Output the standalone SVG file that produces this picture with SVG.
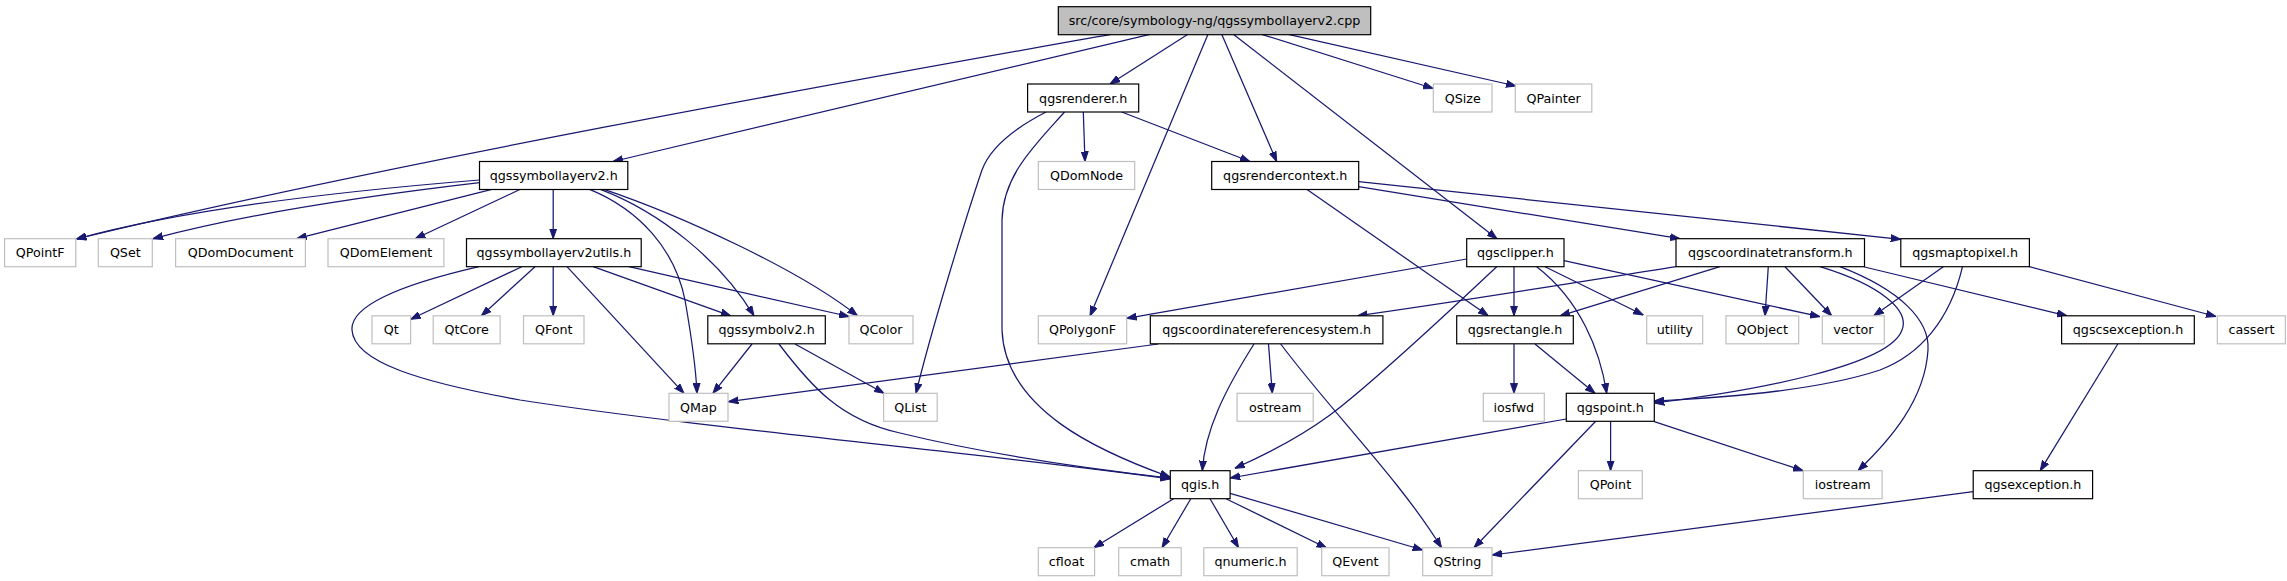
<svg xmlns="http://www.w3.org/2000/svg" width="2287" height="581" viewBox="0 0 2287 581">
<style>
.n rect{fill:#fff;stroke:#000;stroke-width:1.2}
.x rect{fill:#fff;stroke:#bfbfbf;stroke-width:1.2}
.r rect{fill:#bfbfbf;stroke:#000;stroke-width:1.2}
text{font-family:"DejaVu Sans","Liberation Sans",sans-serif;font-size:12.7px;fill:#000;text-anchor:middle}
#edges path{fill:none;stroke:#191970;stroke-width:1.25;marker-end:url(#a)}
</style>
<defs>
<marker id="a" markerWidth="10" markerHeight="8" refX="10" refY="4" orient="auto" markerUnits="userSpaceOnUse"><path d="M0,0.5 L10,4 L0,7.5 z" fill="#191970" stroke="#191970" stroke-width="1"/></marker>
</defs>
<rect width="2287" height="581" fill="#fff"/>
<g id="edges">
<path d="M1111,34.3 C900,72 400,160 76.5,239"/>
<path d="M1150,34.3 L613,161.5"/>
<path d="M1188,34.3 L1110,84"/>
<path d="M1208,34.3 L1090,316"/>
<path d="M1221.7,34.3 L1276.7,161.5"/>
<path d="M1233.3,34.3 L1497,238.7"/>
<path d="M1261.7,34.3 L1433.3,88.5"/>
<path d="M1288.3,34.3 L1516,86"/>
<path d="M1083.3,112 L1085,161.5"/>
<path d="M1121.7,112 L1250,161.5"/>
<path d="M1046,112 C1015,128 990,148 982,170 C965,220 930,335 916,393.3"/>
<path d="M1064.5,112 C1035,145 1003,175 1002,220 L1002,330 C1005,410 1100,452 1170,477"/>
<path d="M479.5,180 C380,188 200,205 76.5,239"/>
<path d="M479.5,182.7 C400,192 260,210 153,238.7"/>
<path d="M491.8,189.3 L296.6,238.7"/>
<path d="M520.4,189.3 L415.2,238.7"/>
<path d="M553.2,189.3 L553.2,238.7"/>
<path d="M589.6,189.3 C640,210 675,250 685,300 C692,340 696,370 697,393.3"/>
<path d="M600.4,189.3 C660,212 720,260 754,315.8"/>
<path d="M604,189.3 C680,215 800,270 857.5,315.8"/>
<path d="M479,266.7 C430,278 350,300 352,330 C354,362 420,382 520,400 C700,428 1000,455 1170,479"/>
<path d="M521.8,266.7 L410.6,319.3"/>
<path d="M535,266.7 L481.4,315.8"/>
<path d="M553.2,266.7 L553.2,315.8"/>
<path d="M567,266.7 L684,393.3"/>
<path d="M593.2,266.7 L730.7,315.8"/>
<path d="M628.9,266.7 L849,316.5"/>
<path d="M752,344 L712.9,393.3"/>
<path d="M779,344 C810,385 840,420 900,433 C990,455 1100,470 1170,478"/>
<path d="M795,344 L884,393.3"/>
<path d="M1306.7,189.3 L1488.3,315.8"/>
<path d="M1358.7,186.7 L1680,238.7"/>
<path d="M1358.7,181.7 L1900.8,239.3"/>
<path d="M1466.7,259 L1126.7,318.3"/>
<path d="M1496.7,266.7 C1440,320 1370,385 1330,415 C1300,437 1265,455 1234.8,468.3"/>
<path d="M1514,266.7 L1514,315.8"/>
<path d="M1536.7,266.7 C1580,300 1600,350 1606.7,393.3"/>
<path d="M1545,266.7 L1643.3,315"/>
<path d="M1564,260.7 L1820,316.7"/>
<path d="M1676,266.7 C1560,285 1450,303 1357.3,315.8"/>
<path d="M1720,266.7 L1560,315.8"/>
<path d="M1768.3,266.7 L1765,315.8"/>
<path d="M1785,266.7 L1831.7,315.8"/>
<path d="M1820,266.7 C1880,285 1910,310 1902,330 C1890,365 1760,390 1654.3,403"/>
<path d="M1840,266.7 C1900,290 1930,320 1928,350 C1925,400 1890,440 1858,470.7"/>
<path d="M1864.5,267 L2067,315.8"/>
<path d="M1943.3,266.7 L1873.7,315.8"/>
<path d="M1962.5,266.7 C1950,320 1920,355 1880,370 C1820,390 1720,398 1654.3,401"/>
<path d="M2029.4,266.7 L2216,316.5"/>
<path d="M1158.3,344 L728.4,401.7"/>
<path d="M1254,344 C1225,390 1205,430 1202.3,470.7"/>
<path d="M1268.5,344 L1272.3,393.3"/>
<path d="M1280.7,344 C1330,410 1400,480 1441.5,547.7"/>
<path d="M1514,344 L1514,393.3"/>
<path d="M1535,344 L1595,393.3"/>
<path d="M1566.3,419 L1230.1,478"/>
<path d="M1595.7,421.3 L1474,547.7"/>
<path d="M1610.6,421.3 L1610.6,470.7"/>
<path d="M1654.3,421.7 L1803,470.7"/>
<path d="M1173.6,498.7 L1093.8,547.7"/>
<path d="M1190.8,498.7 L1162,547.7"/>
<path d="M1210,498.7 L1238.6,547.7"/>
<path d="M1226,498.7 L1326.6,548"/>
<path d="M1230.1,493.3 L1422.7,550"/>
<path d="M2117.8,344 L2040.2,470.7"/>
<path d="M1973.2,491.7 L1492,555"/>
</g>
<g id="root" class="r"><rect x="1058.3" y="6.7" width="312.4" height="28"/><text x="1214.5" y="25.2">src/core/symbology-ng/qgssymbollayerv2.cpp</text></g>
<g id="qgsrenderer" class="n"><rect x="1027.6" y="84" width="111.1" height="28"/><text x="1083.2" y="102.5">qgsrenderer.h</text></g>
<g id="QSize" class="x"><rect x="1433.3" y="84" width="58.7" height="28"/><text x="1462.7" y="102.5">QSize</text></g>
<g id="QPainter" class="x"><rect x="1515.3" y="84" width="76.5" height="28"/><text x="1553.6" y="102.5">QPainter</text></g>
<g id="qgssymbollayerv2" class="n"><rect x="479.5" y="161.5" width="148.3" height="28"/><text x="553.7" y="180">qgssymbollayerv2.h</text></g>
<g id="QDomNode" class="x"><rect x="1038.3" y="161.5" width="96.4" height="28"/><text x="1086.5" y="180">QDomNode</text></g>
<g id="qgsrendercontext" class="n"><rect x="1211.7" y="161.5" width="147" height="28"/><text x="1285.2" y="180">qgsrendercontext.h</text></g>
<g id="QPointF" class="x"><rect x="4.6" y="238.7" width="71.2" height="28"/><text x="40.2" y="257.2">QPointF</text></g>
<g id="QSet" class="x"><rect x="98.3" y="238.7" width="54" height="28"/><text x="125.3" y="257.2">QSet</text></g>
<g id="QDomDocument" class="x"><rect x="175.6" y="238.7" width="129.8" height="28"/><text x="240.5" y="257.2">QDomDocument</text></g>
<g id="QDomElement" class="x"><rect x="328" y="238.7" width="115.9" height="28"/><text x="386" y="257.2">QDomElement</text></g>
<g id="qgssymbollayerv2utils" class="n"><rect x="466.5" y="238.7" width="174.7" height="28"/><text x="553.9" y="257.2">qgssymbollayerv2utils.h</text></g>
<g id="qgsclipper" class="n"><rect x="1466.7" y="238.7" width="97.3" height="28"/><text x="1515.4" y="257.2">qgsclipper.h</text></g>
<g id="qgscoordinatetransform" class="n"><rect x="1676" y="238.7" width="188.5" height="28"/><text x="1770.3" y="257.2">qgscoordinatetransform.h</text></g>
<g id="qgsmaptopixel" class="n"><rect x="1900.8" y="238.7" width="128.6" height="28"/><text x="1965.1" y="257.2">qgsmaptopixel.h</text></g>
<g id="Qt" class="x"><rect x="372" y="315.8" width="38.6" height="28"/><text x="391.3" y="334.3">Qt</text></g>
<g id="QtCore" class="x"><rect x="433.2" y="315.8" width="66.9" height="28"/><text x="466.7" y="334.3">QtCore</text></g>
<g id="QFont" class="x"><rect x="523.5" y="315.8" width="60.5" height="28"/><text x="553.8" y="334.3">QFont</text></g>
<g id="qgssymbolv2" class="n"><rect x="707.8" y="315.8" width="117.5" height="28"/><text x="766.6" y="334.3">qgssymbolv2.h</text></g>
<g id="QColor" class="x"><rect x="849" y="315.8" width="64" height="28"/><text x="881" y="334.3">QColor</text></g>
<g id="QPolygonF" class="x"><rect x="1038.3" y="315.8" width="88.4" height="28"/><text x="1082.5" y="334.3">QPolygonF</text></g>
<g id="qgscoordinatereferencesystem" class="n"><rect x="1150.3" y="315.8" width="232.6" height="28"/><text x="1266.6" y="334.3">qgscoordinatereferencesystem.h</text></g>
<g id="qgsrectangle" class="n"><rect x="1456.7" y="315.8" width="116.6" height="28"/><text x="1515" y="334.3">qgsrectangle.h</text></g>
<g id="utility" class="x"><rect x="1646.7" y="315.8" width="56" height="28"/><text x="1674.7" y="334.3">utility</text></g>
<g id="QObject" class="x"><rect x="1726" y="315.8" width="72.7" height="28"/><text x="1762.4" y="334.3">QObject</text></g>
<g id="vector" class="x"><rect x="1822.3" y="315.8" width="62" height="28"/><text x="1853.3" y="334.3">vector</text></g>
<g id="qgscsexception" class="n"><rect x="2061.6" y="315.8" width="132.7" height="28"/><text x="2128" y="334.3">qgscsexception.h</text></g>
<g id="cassert" class="x"><rect x="2217.3" y="315.8" width="68.1" height="28"/><text x="2251.4" y="334.3">cassert</text></g>
<g id="QMap" class="x"><rect x="669" y="393.3" width="59" height="28"/><text x="698.5" y="411.8">QMap</text></g>
<g id="QList" class="x"><rect x="883.6" y="393.3" width="53.6" height="28"/><text x="910.4" y="411.8">QList</text></g>
<g id="ostream" class="x"><rect x="1237.1" y="393.3" width="76.1" height="28"/><text x="1275.2" y="411.8">ostream</text></g>
<g id="iosfwd" class="x"><rect x="1483.3" y="393.3" width="61" height="28"/><text x="1513.8" y="411.8">iosfwd</text></g>
<g id="qgspoint" class="n"><rect x="1566.3" y="393.3" width="88" height="28"/><text x="1610.3" y="411.8">qgspoint.h</text></g>
<g id="qgis" class="n"><rect x="1170.3" y="470.7" width="59.8" height="28"/><text x="1200.2" y="489.2">qgis.h</text></g>
<g id="QPoint" class="x"><rect x="1578.4" y="470.7" width="63.9" height="28"/><text x="1610.4" y="489.2">QPoint</text></g>
<g id="iostream" class="x"><rect x="1803.3" y="470.7" width="78.8" height="28"/><text x="1842.7" y="489.2">iostream</text></g>
<g id="qgsexception" class="n"><rect x="1973.2" y="470.7" width="119.4" height="28"/><text x="2032.9" y="489.2">qgsexception.h</text></g>
<g id="cfloat" class="x"><rect x="1038.3" y="547.7" width="56.3" height="28"/><text x="1066.5" y="566.2">cfloat</text></g>
<g id="cmath" class="x"><rect x="1118.7" y="547.7" width="62.5" height="28"/><text x="1150" y="566.2">cmath</text></g>
<g id="qnumeric" class="x"><rect x="1203.8" y="547.7" width="93.4" height="28"/><text x="1250.5" y="566.2">qnumeric.h</text></g>
<g id="QEvent" class="x"><rect x="1321.7" y="547.7" width="67.3" height="28"/><text x="1355.4" y="566.2">QEvent</text></g>
<g id="QString" class="x"><rect x="1422.7" y="547.7" width="69.3" height="28"/><text x="1457.4" y="566.2">QString</text></g>
</svg>
